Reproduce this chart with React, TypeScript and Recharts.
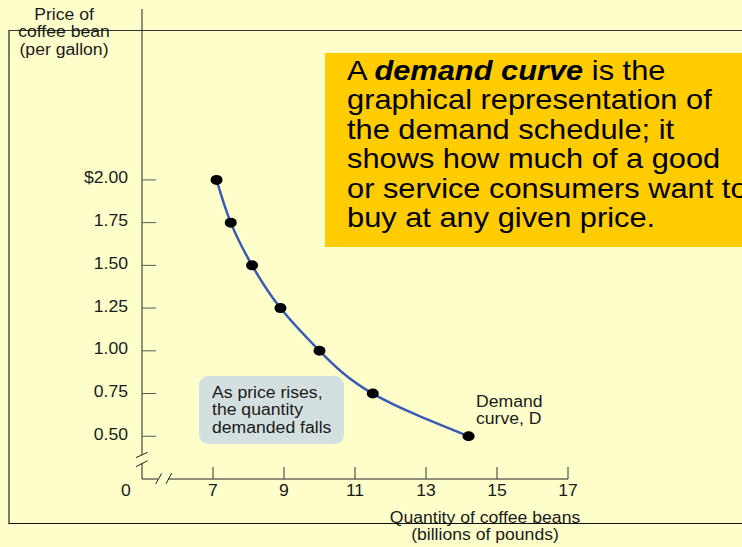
import { LineChart, Line, XAxis, YAxis, ReferenceLine } from 'recharts';

// demand schedule for coffee beans
const prices = [2.0, 1.75, 1.5, 1.25, 1.0, 0.75, 0.5];
const quantities = [7.1, 7.5, 8.1, 8.9, 10.0, 11.5, 14.2];

const xTicks = [5, 7, 9, 11, 13, 15, 17];
const yTicks = [0.5, 0.75, 1.0, 1.25, 1.5, 1.75, 2.0];

const yAxisTitle = ['Price of', 'coffee bean', '(per gallon)'];
const xAxisTitle = ['Quantity of coffee beans', '(billions of pounds)'];
const noteLines = ['As price rises,', 'the quantity', 'demanded falls'];
const curveLabel = ['Demand', 'curve, D'];
const boxLines = [
  'graphical representation of',
  'the demand schedule; it',
  'shows how much of a good',
  'or service consumers want to',
  'buy at any given price.',
];

const data = quantities.map((q, i) => ({ q, p: prices[i] }));

const FONT = '"Liberation Sans", Arial, Helvetica, sans-serif';
const BG = '#FFFFCC';
const INK = '#1a1a1a';

// axis breaks (data units)
const X_MIN = 5;
const Y_MIN = 0.25;
const yGap = [0.343, 0.39];
const xGap = [5.45, 5.73];
const slashes = [
  [{ x: 5.386, y: 0.221 }, { x: 5.555, y: 0.283 }],
  [{ x: 5.676, y: 0.221 }, { x: 5.836, y: 0.285 }],
  [{ x: 4.83, y: 0.375 }, { x: 5.16, y: 0.406 }],
  [{ x: 4.83, y: 0.322 }, { x: 5.16, y: 0.357 }],
];

const XTick = ({ x, y, payload }: any) => {
  const isOrigin = payload.value === X_MIN;
  const tx = isOrigin ? x - 16 : x;
  return (
    <g>
      {!isOrigin && <line x1={x} x2={x} y1={y} y2={y - 12} stroke="#333" strokeWidth={1} />}
      <text
        transform={`translate(${tx},${y + 17}) scale(1.1,1)`}
        textAnchor="middle"
        fontFamily={FONT}
        fontSize={16}
        fill={INK}
      >
        {isOrigin ? '0' : payload.value}
      </text>
    </g>
  );
};

const YTick = ({ x, y, payload }: any) => {
  const v = payload.value;
  const label = v === 2 ? '$2.00' : v.toFixed(2);
  return (
    <g>
      <line x1={x} x2={x + 14} y1={y} y2={y} stroke="#555" strokeWidth={1} />
      <text
        transform={`translate(${x - 14},${y + 3.5}) scale(1.1,1)`}
        textAnchor="end"
        fontFamily={FONT}
        fontSize={16}
        fill={INK}
      >
        {label}
      </text>
    </g>
  );
};

const Dot = ({ cx, cy }: any) => <ellipse cx={cx} cy={cy} rx={6} ry={5} fill="#000" />;

const small = {
  fontFamily: FONT,
  fontSize: 16,
  lineHeight: '17.5px',
  color: INK,
  whiteSpace: 'nowrap' as const,
};

const App = () => {
  return (
    <div
      style={{
        position: 'absolute',
        left: 0,
        top: 0,
        width: 742,
        height: 547,
        background: BG,
        overflow: 'hidden',
      }}
    >
      {/* outer frame */}
      <div
        style={{
          position: 'absolute',
          left: 8,
          top: 30,
          width: 800,
          height: 494,
          boxSizing: 'border-box',
          borderLeft: '2px solid #7a7a5c',
          borderTop: '1px solid #333',
          borderBottom: '1px solid #111',
        }}
      />

      <div style={{ position: 'absolute', left: 0, top: 0 }}>
        <LineChart width={742} height={547} data={data} margin={{ top: 9, right: 174, bottom: 38, left: 82 }}>
          <XAxis
            dataKey="q"
            type="number"
            domain={[X_MIN, 17]}
            ticks={xTicks}
            axisLine={false}
            tickLine={false}
            tickSize={0}
            tickMargin={0}
            height={30}
            tick={<XTick />}
            interval={0}
          />
          <YAxis
            type="number"
            domain={[Y_MIN, 3]}
            ticks={yTicks}
            axisLine={false}
            tickLine={false}
            tickSize={0}
            tickMargin={0}
            width={60}
            tick={<YTick />}
            interval={0}
          />
          {/* axis lines with breaks */}
          <ReferenceLine segment={[{ x: X_MIN, y: Y_MIN }, { x: X_MIN, y: yGap[0] }]} stroke="#222" ifOverflow="visible" />
          <ReferenceLine segment={[{ x: X_MIN, y: yGap[1] }, { x: X_MIN, y: 3 }]} stroke="#222" ifOverflow="visible" />
          <ReferenceLine segment={[{ x: X_MIN, y: Y_MIN }, { x: xGap[0], y: Y_MIN }]} stroke="#222" ifOverflow="visible" />
          <ReferenceLine segment={[{ x: xGap[1], y: Y_MIN }, { x: 17, y: Y_MIN }]} stroke="#222" ifOverflow="visible" />
          {slashes.map((s, i) => (
            <ReferenceLine key={i} segment={s} stroke="#222" ifOverflow="visible" />
          ))}
          <Line
            dataKey="p"
            type="natural"
            stroke="#3a5cb4"
            strokeWidth={2.5}
            dot={<Dot />}
            activeDot={false}
            isAnimationActive={false}
          />
        </LineChart>
      </div>

      {/* y axis title */}
      <div style={{ position: 'absolute', left: 0, top: 5.7, width: 128, textAlign: 'center' }}>
        {yAxisTitle.map((t) => (
          <div key={t} style={{ ...small, transform: 'scaleX(1.1)' }}>
            {t}
          </div>
        ))}
      </div>

      {/* x axis title */}
      <div style={{ position: 'absolute', left: 385, top: 508.7, width: 200, textAlign: 'center' }}>
        {xAxisTitle.map((t) => (
          <div key={t} style={{ ...small, transform: 'scaleX(1.1)' }}>
            {t}
          </div>
        ))}
      </div>

      {/* note box */}
      <div
        style={{
          position: 'absolute',
          left: 199,
          top: 376,
          width: 145,
          height: 68,
          borderRadius: 9,
          background: '#d4e0df',
        }}
      />
      <div style={{ position: 'absolute', left: 212, top: 383.7 }}>
        {noteLines.map((t) => (
          <div key={t} style={{ ...small, transform: 'scaleX(1.1)', transformOrigin: 'left top' }}>
            {t}
          </div>
        ))}
      </div>

      {/* curve label */}
      <div style={{ position: 'absolute', left: 476, top: 392.7 }}>
        {curveLabel.map((t) => (
          <div key={t} style={{ ...small, transform: 'scaleX(1.1)', transformOrigin: 'left top' }}>
            {t}
          </div>
        ))}
      </div>

      {/* definition box */}
      <div
        style={{
          position: 'absolute',
          left: 325,
          top: 53,
          width: 440,
          height: 194,
          background: '#FFCC00',
        }}
      />
      <div style={{ position: 'absolute', left: 347, top: 55.6 }}>
        <div
          style={{
            fontFamily: FONT,
            fontSize: 28,
            lineHeight: '29.5px',
            color: '#000',
            whiteSpace: 'nowrap',
            transform: 'scaleX(1.1)',
            transformOrigin: 'left top',
          }}
        >
          A <b><i>demand curve</i></b> is the
        </div>
        {boxLines.map((t) => (
          <div
            key={t}
            style={{
              fontFamily: FONT,
              fontSize: 28,
              lineHeight: '29.5px',
              color: '#000',
              whiteSpace: 'nowrap',
              transform: 'scaleX(1.1)',
              transformOrigin: 'left top',
            }}
          >
            {t}
          </div>
        ))}
      </div>
    </div>
  );
};

export default App;
